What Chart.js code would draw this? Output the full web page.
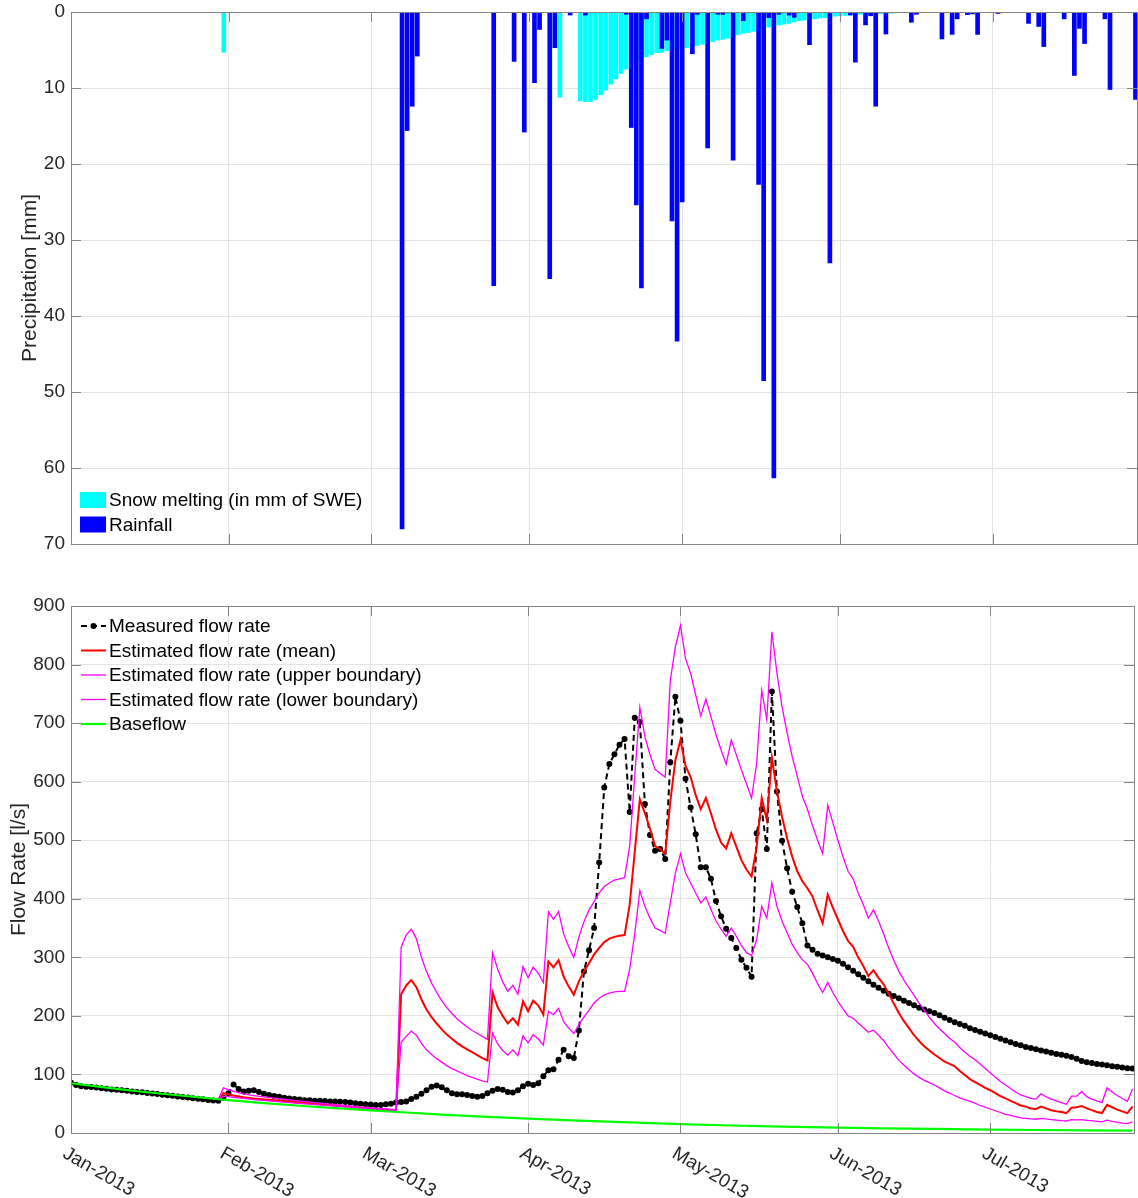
<!DOCTYPE html>
<html>
<head>
<meta charset="utf-8">
<title>Precipitation and flow rate 2013</title>
<script src="https://cdn.jsdelivr.net/npm/chart.js@4.4.1/dist/chart.umd.min.js"></script>
<style>
  html, body { margin: 0; padding: 0; background: #fff; }
  #wrap { position: relative; width: 1138px; height: 1198px; }
  canvas { position: absolute; left: 0; }
  #rainChart { top: 0; }
  #flowChart { top: 560px; }
</style>
</head>
<body>
<div id="wrap">
  <canvas id="rainChart" width="1138" height="560"></canvas>
  <canvas id="flowChart" width="1138" height="638"></canvas>
</div>
<script>
// x values are days counted from 1 Jan 2013
const monthDays = [0, 31, 59, 90, 120, 151, 181];
const monthLabels = ['Jan-2013', 'Feb-2013', 'Mar-2013', 'Apr-2013', 'May-2013', 'Jun-2013', 'Jul-2013'];
const lastDay = 209.3;

const snowDays = [30, 96, 100, 101, 102, 103, 104, 105, 106, 107, 108, 109, 110, 111, 112, 113, 114, 115, 116, 117,
  118, 119, 120, 121, 122, 123, 124, 125, 126, 127, 128, 129, 130, 131, 132, 133, 134, 135, 136, 137, 138, 139, 140,
  141, 142, 143, 144, 145, 146, 147, 148, 149, 150, 151, 152, 153, 154, 155, 156, 157, 158, 159, 160, 161, 162, 163];
const snowMm = [5.3, 11.2, 11.7, 11.8, 11.8, 11.5, 10.9, 10.3, 9.5, 8.8, 8.1, 7.5, 7.0, 6.6, 6.2, 5.9, 5.6, 5.35, 5.3, 5.1,
  5.0, 4.9, 4.8, 4.7, 4.6, 4.4, 4.25, 4.1, 3.9, 3.7, 3.6, 3.45, 3.2, 3.0, 2.8, 2.7, 2.55, 2.4, 2.2, 2.0, 1.85, 1.7, 1.6,
  1.5, 1.3, 1.15, 1.05, 1.0, 0.9, 0.8, 0.75, 0.65, 0.55, 0.5, 0.45, 0.4, 0.35, 0.3, 0.3, 0.25, 0.2, 0.2, 0.15, 0.15, 0.1, 0.1];

const rainDays = [65, 66, 67, 68, 83, 87, 89, 91, 92, 94, 95, 98, 101, 109, 110, 111, 112, 113, 116, 117, 118, 119, 120,
  122, 123, 125, 127, 128, 130, 132, 135, 136, 137, 138, 139, 141, 142, 145, 149, 153, 154, 156, 157, 158, 160, 165,
  166, 171, 173, 174, 176, 177, 178, 182, 188, 190, 191, 195, 197, 198, 199, 203, 204, 209];
const rainMm = [68, 15.6, 12.4, 5.8, 36, 6.5, 15.8, 9.3, 2.3, 35.1, 4.7, 0.4, 0.4, 0.3, 15.2, 25.4, 36.3, 0.9, 4.8, 3.7,
  27.5, 43.3, 25, 5.5, 0.3, 17.9, 0.3, 0.3, 19.5, 1.15, 22.7, 48.5, 0.75, 61.3, 0.3, 0.4, 0.7, 4.3, 33, 0.4, 6.6, 1.7,
  0.5, 12.4, 2.9, 1.35, 0.3, 3.55, 2.95, 0.9, 0.35, 0.25, 2.95, 0.2, 1.5, 1.9, 4.55, 0.9, 8.35, 2.15, 4.15, 0.9, 10.2, 11.5];

// daily measured discharge, one value per day from 1 Jan
const measuredFlow = [
  86, 82, 80, 79, 78.5, 77.5, 76.5, 75.5, 74.5, 74, 73, 72, 71, 70, 69.5, 68.5, 67.5, 66.5, 65.5, 64.5,
  63.5, 62.5, 61.5, 60.5, 59.5, 58.5, 57.5, 56.5, 55.5, 55,
  60, 68, 83, 75, 71, 72, 73, 70, 67, 65, 63, 62, 60, 59, 58, 57, 56, 56, 55, 55,
  54.5, 54, 54, 53.5, 53, 52, 51, 50, 49, 48.5, 48, 48, 49, 50, 52,
  53, 54, 58, 62, 67, 73, 79, 81, 78, 73, 68, 66, 66, 65, 63, 62, 63, 68, 72, 75,
  74, 70, 69, 73, 80, 84, 82, 85, 97, 107, 109, 125, 142, 131, 128,
  175, 276, 312, 350, 462, 590, 630, 647, 663, 673, 548, 709, 702, 562, 509, 482, 485, 468, 633, 745,
  704, 605, 556, 510, 454, 454, 434, 396, 370, 349, 333, 316, 296, 282, 267, 512, 553, 485, 754, 583,
  499, 452, 412, 386, 358, 320, 313,
  306, 303, 300, 297, 294, 289, 283, 277, 271, 265, 259, 253, 248, 243, 238, 234, 230, 226, 222, 218,
  214, 211, 208, 205, 201, 197, 193, 189, 186, 183, 179, 176, 173, 170, 167, 164, 161, 158, 155, 152,
  150, 147, 145, 143, 141, 139, 137, 135, 133.5, 132, 130, 127, 123, 121, 119.5, 118, 117, 115.5, 114, 113,
  112, 110.5, 110
];

// model output: sparse in February, daily from 6 March on
const estDays = [29, 30, 31, 32, 34, 36, 40, 44, 48, 52, 56, 60, 64]
  .concat(Array.from({ length: 145 }, (_, i) => 65 + i));
const estUpper = [
  57, 77, 74, 71, 67, 64, 59.5, 55.5, 52, 48.5, 45.5, 42.5, 40,
  317, 338, 348, 332, 300, 276, 256, 240, 226, 214, 204, 195, 188, 181, 175, 170, 165, 160,
  308, 280, 258, 242, 252, 237, 284, 265, 283, 273, 257,
  378, 365, 378, 340, 318, 300,
  335, 361, 381, 395, 410, 421, 427, 432, 434, 436,
  490, 610, 727, 677, 646, 621, 614, 608,
  773, 830, 867, 810, 785, 748, 712, 741, 711, 680, 654, 630, 671, 646, 620, 596, 572, 631, 756, 706,
  856, 785, 728, 683, 643, 609, 575, 553, 525, 500, 477,
  560, 530, 500, 472, 447, 434, 410, 390, 367, 381, 362, 340, 316, 295, 276, 261, 248, 235, 222, 210,
  198, 187, 178, 170, 162, 155, 146, 138, 131, 125, 118, 110, 103, 95, 88, 82, 76, 70, 65, 62,
  59, 58, 67, 62, 58, 55, 52, 49, 63, 63, 71, 62, 58, 55, 52, 77, 70, 64, 59, 54, 75
];
const estMean = [
  57, 68, 66, 64, 61, 59, 56, 53, 50, 47, 44, 41, 38.5,
  237, 252, 261, 249, 228, 211, 198, 187, 177, 168, 161, 154, 148, 143, 138, 133, 128, 124,
  240, 215, 200, 187, 196, 185, 225, 208, 226, 218, 202,
  293, 283, 295, 267, 250, 236,
  259, 276, 290, 305, 316, 326, 332, 335, 337, 338,
  390, 480, 570, 546, 520, 490, 485, 477,
  566, 637, 671, 627, 608, 577, 553, 572, 546, 518, 496, 486, 512, 489, 466, 450, 438, 489, 572, 535,
  641, 583, 540, 503, 472, 447, 430, 418, 404, 380, 358,
  407, 385, 365, 345, 328, 318, 300, 285, 268, 278, 265, 254, 238, 221, 205, 191, 179, 167, 157, 148,
  141, 134, 128, 122, 118, 114, 106, 99, 92, 87, 82, 77, 73, 68, 63, 59, 55, 51, 47, 45,
  42, 41, 45, 42, 39, 37, 36, 34, 43, 44, 46, 42, 39, 36, 34, 48, 44, 40, 37, 34, 45
];
const estLower = [
  57, 63, 62, 61, 59, 57, 54, 51, 48.5, 46, 43, 40.5, 38,
  155, 165, 174, 167, 153, 142, 134, 127, 121, 115, 110, 106, 102, 98, 95, 92, 89, 87,
  171, 152, 141, 133, 142, 132, 166, 154, 168, 161, 150,
  208, 202, 213, 190, 179, 170,
  185, 198, 210, 222, 230, 236, 239, 241, 242, 242,
  280, 340, 414, 387, 367, 350, 346, 341,
  393, 444, 477, 444, 427, 410, 393, 403, 382, 362, 348, 336, 350, 336, 320, 308, 303, 330, 387, 367,
  427, 387, 362, 342, 322, 308, 296, 288, 273, 255, 240,
  257, 240, 225, 212, 200, 196, 188, 180, 172, 176, 167, 158, 146, 135, 124, 116, 108, 101, 95, 90,
  86, 82, 77, 72, 68, 64, 60, 57, 54, 51, 47, 44, 41, 38, 35, 32, 30, 28, 26, 25,
  24, 23.5, 25, 24, 23, 22, 21, 20.5, 23, 22.5, 23, 21.5, 21, 20, 19, 22, 20, 18.5, 17, 16, 19
];

const baseDays = [0, 7, 14, 21, 31, 38, 45, 52, 59, 66, 73, 80, 90, 100, 110, 120, 130, 140, 151, 160, 170, 181, 190, 200, 209];
const baseFlow = [85, 77.5, 70.5, 64.5, 56, 51, 46.5, 42.5, 38.5, 35, 31.5, 28.5, 24.5, 21, 18, 15, 12.8, 11, 9.3, 8, 6.9, 5.8, 5.1, 4.5, 4];

const pairs = (xs, ys) => xs.map((x, i) => ({ x, y: ys[i] }));

const fontFamily = "'Liberation Sans', Arial, Helvetica, sans-serif";
Chart.defaults.font.family = fontFamily;
Chart.defaults.font.size = 19;
Chart.defaults.color = '#262626';

const gridColor = '#e4e4e4';
const boxColor = '#858585';

const monthTicks = (scale) => {
  scale.ticks = monthDays.map((v) => ({ value: v }));
};

// fixed width for the value axis, no extra room above/below for the end labels
const valueAxisFit = (width) => (scale) => {
  scale.width = width;
  scale.paddingTop = 0;
  scale.paddingBottom = 0;
};

// axes box with inward tick marks on all four sides
const axesBox = {
  id: 'axesBox',
  afterDatasetsDraw(chart) {
    const { ctx, chartArea: a, scales } = chart;
    const len = 10;
    ctx.save();
    ctx.strokeStyle = boxColor;
    ctx.lineWidth = 1;
    ctx.beginPath();
    scales.y.ticks.forEach((t) => {
      const y = Math.round(scales.y.getPixelForValue(t.value)) + 0.5;
      ctx.moveTo(a.left, y);
      ctx.lineTo(a.left + len, y);
      ctx.moveTo(a.right, y);
      ctx.lineTo(a.right - len, y);
    });
    scales.x.ticks.forEach((t) => {
      const x = Math.round(scales.x.getPixelForValue(t.value)) + 0.5;
      ctx.moveTo(x, a.bottom);
      ctx.lineTo(x, a.bottom - len);
      ctx.moveTo(x, a.top);
      ctx.lineTo(x, a.top + len);
    });
    ctx.stroke();
    ctx.strokeRect(Math.round(a.left) + 0.5, Math.round(a.top) + 0.5, Math.round(a.width), Math.round(a.height));
    ctx.restore();
  }
};

// legend with filled patches in the lower left corner of the plot
const barLegend = {
  id: 'barLegend',
  afterDraw(chart) {
    const { ctx, chartArea: a } = chart;
    ctx.save();
    ctx.font = '19px ' + fontFamily;
    ctx.textBaseline = 'middle';
    chart.data.datasets.forEach((ds, i) => {
      const y = a.bottom - 44 + i * 24.5;
      ctx.fillStyle = ds.backgroundColor;
      ctx.fillRect(a.left + 9, y - 8, 26, 16);
      ctx.fillStyle = '#000';
      ctx.fillText(ds.label, a.left + 38, y + 1);
    });
    ctx.restore();
  }
};

// legend with line samples in the upper left corner of the plot
const lineLegend = {
  id: 'lineLegend',
  afterDraw(chart) {
    const { ctx, chartArea: a } = chart;
    ctx.save();
    ctx.font = '19px ' + fontFamily;
    ctx.textBaseline = 'middle';
    chart.data.datasets.forEach((ds, i) => {
      const y = a.top + 20 + i * 24.5;
      const x0 = a.left + 10;
      const x1 = a.left + 35;
      ctx.strokeStyle = ds.borderColor;
      ctx.lineWidth = ds.borderWidth;
      ctx.setLineDash(ds.borderDash || []);
      ctx.beginPath();
      ctx.moveTo(x0, y);
      ctx.lineTo(x1, y);
      ctx.stroke();
      ctx.setLineDash([]);
      if (ds.pointRadius) {
        ctx.fillStyle = ds.borderColor;
        ctx.beginPath();
        ctx.arc((x0 + x1) / 2, y, ds.pointRadius, 0, Math.PI * 2);
        ctx.fill();
      }
      ctx.fillStyle = '#000';
      ctx.fillText(ds.label, a.left + 38, y + 1);
    });
    ctx.restore();
  }
};

// month labels slanted downwards under the flow axis
const slantedMonths = {
  id: 'slantedMonths',
  afterDraw(chart) {
    const { ctx, chartArea: a, scales } = chart;
    ctx.save();
    ctx.font = '19px ' + fontFamily;
    ctx.fillStyle = '#262626';
    ctx.textAlign = 'left';
    ctx.textBaseline = 'top';
    monthDays.forEach((d, i) => {
      ctx.save();
      ctx.translate(scales.x.getPixelForValue(d) - 2, a.bottom + 11);
      ctx.rotate(Math.PI / 6);
      ctx.fillText(monthLabels[i], 0, 0);
      ctx.restore();
    });
    ctx.restore();
  }
};

const dayAxis = (height) => ({
  type: 'linear',
  min: 0,
  max: lastDay,
  offset: false,
  afterBuildTicks: monthTicks,
  ticks: { display: false },
  grid: { color: gridColor, drawTicks: false, offset: false },
  border: { display: false },
  afterFit: (scale) => { scale.height = height; }
});

new Chart(document.getElementById('rainChart'), {
  type: 'bar',
  data: {
    datasets: [
      {
        label: 'Snow melting (in mm of SWE)',
        data: pairs(snowDays, snowMm),
        backgroundColor: '#00ffff',
        barThickness: 4,
        grouped: false,
        order: 1
      },
      {
        label: 'Rainfall',
        data: pairs(rainDays, rainMm),
        backgroundColor: '#0000ff',
        barThickness: 4,
        grouped: false,
        order: 0
      }
    ]
  },
  options: {
    responsive: false,
    animation: false,
    devicePixelRatio: 1,
    layout: { padding: { left: 18, top: 12, right: 1, bottom: 0 } },
    plugins: { legend: { display: false }, tooltip: { enabled: false } },
    scales: {
      x: dayAxis(16),
      y: {
        reverse: true,
        min: 0,
        max: 70,
        ticks: { stepSize: 10, padding: 6 },
        grid: { color: gridColor, drawTicks: false },
        border: { display: false },
        title: { display: true, text: 'Precipitation [mm]', font: { size: 21 }, padding: 0 },
        afterFit: valueAxisFit(53)
      }
    }
  },
  plugins: [axesBox, barLegend]
});

new Chart(document.getElementById('flowChart'), {
  type: 'line',
  data: {
    datasets: [
      {
        label: 'Measured flow rate',
        data: measuredFlow.map((y, x) => ({ x, y })),
        borderColor: '#000000',
        backgroundColor: '#000000',
        borderWidth: 2,
        borderDash: [6, 4],
        pointRadius: 3,
        pointBorderWidth: 0,
        pointBackgroundColor: '#000000',
        order: 5
      },
      {
        label: 'Estimated flow rate (mean)',
        data: pairs(estDays, estMean),
        borderColor: '#ff0000',
        borderWidth: 2,
        pointRadius: 0,
        order: 4
      },
      {
        label: 'Estimated flow rate (upper boundary)',
        data: pairs(estDays, estUpper),
        borderColor: '#ff00ff',
        borderWidth: 1.3,
        pointRadius: 0,
        order: 3
      },
      {
        label: 'Estimated flow rate (lower boundary)',
        data: pairs(estDays, estLower),
        borderColor: '#ff00ff',
        borderWidth: 1.3,
        pointRadius: 0,
        order: 2
      },
      {
        label: 'Baseflow',
        data: pairs(baseDays, baseFlow),
        borderColor: '#00ff00',
        borderWidth: 2.2,
        pointRadius: 0,
        order: 1
      }
    ]
  },
  options: {
    responsive: false,
    animation: false,
    devicePixelRatio: 1,
    layout: { padding: { left: 7, top: 46, right: 1, bottom: 0 } },
    plugins: { legend: { display: false }, tooltip: { enabled: false } },
    scales: {
      x: dayAxis(65),
      y: {
        min: 0,
        max: 900,
        ticks: { stepSize: 100, padding: 6 },
        grid: { color: gridColor, drawTicks: false },
        border: { display: false },
        title: { display: true, text: 'Flow Rate [l/s]', font: { size: 21 }, padding: 0 },
        afterFit: valueAxisFit(64)
      }
    }
  },
  plugins: [axesBox, lineLegend, slantedMonths]
});
</script>
</body>
</html>
